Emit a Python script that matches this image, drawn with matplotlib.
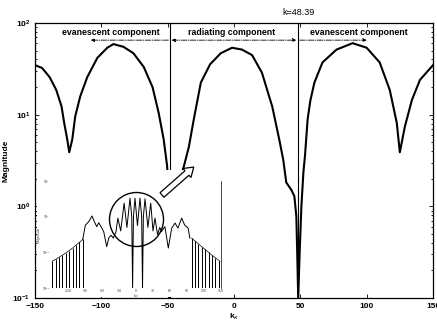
import matplotlib
matplotlib.use("Agg")
import matplotlib.pyplot as plt
import numpy as np
from matplotlib.patches import Circle, FancyArrow, Rectangle

plt.rcParams['font.family'] = ['Liberation Sans', 'DejaVu Sans']

# --- values (kx, log10 of magnitude) ---
k_cut = 48.39

main_kx = [-150, -144.7, -139, -134, -130, -128, -125.7, -124.2, -121.9, -119.7,
           -115.9, -110.6, -103, -95.5, -90.9, -83.3, -75.8, -68, -61.4, -56.8,
           -53, -50.5, -49.2, -48.39,
           -47.5, -45, -41, -37.9, -34, -30.3, -25, -18, -10, -1.5,
           6, 13.6, 21, 28.8, 34.1, 37.1, 39.4, 43.2, 45.5, 47, 47.7, 48.39,
           49.5, 50.8, 52.3, 53.5, 55.5, 57.5, 60.6, 66.7, 77.3, 89.4,
           100, 109.8, 117.4, 122.7, 125, 128.8, 134.1, 140.2, 150]
main_log_mag = [1.54, 1.51, 1.41, 1.27, 1.09, 0.91, 0.73, 0.59, 0.73, 0.98,
                1.2, 1.41, 1.62, 1.73, 1.77, 1.74, 1.67, 1.52, 1.30, 1.02,
                0.73, 0.45, 0.2, -1.0,
                -0.3, 0.05, 0.3, 0.43, 0.65, 0.95, 1.35, 1.55, 1.67, 1.73,
                1.71, 1.65, 1.46, 1.09, 0.73, 0.51, 0.26, 0.18, 0.11, -0.11, -0.54, -1.0,
                -0.5, 0.0, 0.37, 0.55, 0.95, 1.15, 1.35, 1.57, 1.71, 1.78,
                1.73, 1.57, 1.27, 0.91, 0.59, 0.87, 1.16, 1.38, 1.54]

# inset: full spectrum (comb lobes on both sides, busy middle part)
inset_left_comb_kx = [-148, -142, -136, -130, -124, -118, -112, -106, -100, -94]
inset_left_comb_log = [-1.25, -1.2, -1.14, -1.08, -1.02, -0.95, -0.88, -0.8, -0.72, -0.64]
inset_right_comb_kx = [98, 104, 110, 116, 122, 128, 134, 140, 146]
inset_right_comb_log = [-0.6, -0.68, -0.76, -0.84, -0.92, -1.0, -1.08, -1.15, -1.22]
inset_mid_kx = [-94, -89.4, -83.4, -77.6, -73.5, -69.3, -65.8, -61.7, -57, -51.7,
                -48.1, -44, -40, -35.3, -32, -27, -21, -16, -10.6, -7.5,
                -6, -4.5, -1.8, 2.6, 7, 10, 11.5, 13, 15.9, 21,
                26, 30, 33.5, 38, 42, 45, 51, 57, 63, 69,
                74, 80.6, 86, 92, 95]
inset_mid_log = [-0.64, -0.24, -0.14, 0.02, -0.14, -0.28, -0.17, -0.28, -0.42, -0.84,
                 -0.6, -0.52, -0.6, -0.42, -0.04, -0.4, 0.38, -0.3, 0.52, 0.0,
                 -2.0, 0.0, 0.52, -0.25, 0.52, 0.0, -2.0, 0.0, 0.5, -0.3,
                 0.38, -0.4, -0.04, -0.5, -0.3, -0.42, -0.28, -0.88, -0.32, -0.18,
                 -0.32, -0.04, -0.24, -0.32, -0.6]

x_ticks = [-150, -100, -50, 0, 50, 100, 150]
inset_x_ticks = [-120, -90, -60, -30, 0, 30, 60, 90, 120, 150]

fig = plt.figure(figsize=(4.37, 3.25), dpi=100)
ax = fig.add_axes([35 / 437, 27 / 325, 398 / 437, 275 / 325])

ax.semilogy(main_kx, 10 ** np.array(main_log_mag), color='black', lw=1.5)
ax.axvline(-k_cut, color='black', lw=0.8)
ax.axvline(k_cut, color='black', lw=0.8)

ax.set_xlim(-150, 150)
ax.set_ylim(0.1, 100)
ax.set_xticks(x_ticks)
ax.tick_params(which='both', direction='in', top=True, right=True,
               labelsize=6, width=0.6)
ax.tick_params(which='major', length=3)
ax.tick_params(which='minor', length=1.5)
for lab in ax.get_xticklabels() + ax.get_yticklabels():
    lab.set_fontweight('bold')
ax.set_xlabel('k$_x$', fontsize=6, fontweight='bold', labelpad=1)
ax.set_ylabel('Magnitude', fontsize=6, fontweight='bold', labelpad=2)
for sp in ax.spines.values():
    sp.set_linewidth(0.9)

ax.text(k_cut, 130, 'k=48.39', fontsize=6.5, ha='center', va='center')

# region labels and their dash-dot arrows
txt_kw = dict(fontsize=6.3, fontweight='bold', ha='center', va='center')
ax.text(-93, 78, 'evanescent component', **txt_kw)
ax.text(-1.5, 78, 'radiating component', **txt_kw)
ax.text(94, 78, 'evanescent component', **txt_kw)
arr_kw = dict(arrowstyle='-|>', linestyle='-.', lw=0.6, color='black',
              mutation_scale=5, shrinkA=0, shrinkB=0)
ax.annotate('', xy=(-108, 65), xytext=(-49.5, 65), arrowprops=arr_kw)
ax.annotate('', xy=(47, 65), xytext=(-47, 65),
            arrowprops=dict(arr_kw, arrowstyle='<|-|>'))
ax.annotate('', xy=(100, 65), xytext=(49.5, 65), arrowprops=arr_kw)

# white patch the inset picture sits on
fig.patches.append(Rectangle((0.37, 0.28), 1.91, 1.27, transform=fig.dpi_scale_trans,
                             facecolor='white', edgecolor='none', zorder=1))

ins = fig.add_axes([51 / 437, 37 / 325, 170 / 437, 107 / 325])
ins.set_zorder(2)
ins.patch.set_alpha(0)
ins.set_yscale('log')
ins.vlines(inset_left_comb_kx, 0.01, 10 ** np.array(inset_left_comb_log),
           color='black', lw=0.7)
ins.plot(inset_left_comb_kx, 10 ** np.array(inset_left_comb_log), color='black', lw=0.5)
ins.vlines(inset_right_comb_kx, 0.01, 10 ** np.array(inset_right_comb_log),
           color='black', lw=0.7)
ins.plot(inset_right_comb_kx, 10 ** np.array(inset_right_comb_log), color='black', lw=0.5)
ins.plot(inset_mid_kx, 10 ** np.array(inset_mid_log), color='black', lw=0.7)
ins.set_xlim(-150, 150)
ins.set_ylim(0.01, 10)
ins.set_xticks(inset_x_ticks)
ins.set_xticklabels([str(t) for t in inset_x_ticks])
for side in ['top', 'bottom', 'left']:
    ins.spines[side].set_visible(False)
ins.spines['right'].set_linewidth(0.5)
ins.tick_params(which='both', length=0, labelsize=2.5, pad=0.5, colors='#444444')
ins.tick_params(which='minor', labelleft=False)
ins.set_xlabel('k$_x$', fontsize=3, labelpad=0, color='#444444')
ins.set_ylabel('Magnitude', fontsize=2.5, labelpad=1, color='#444444')

# magnifier circle and hollow arrow pointing at the main curve
fig.patches.append(Circle((1.365, 1.055), 0.27, transform=fig.dpi_scale_trans,
                          fill=False, edgecolor='black', lw=1.0, zorder=3))
fig.patches.append(FancyArrow(1.62, 1.30, 0.25, 0.22, width=0.06, head_width=0.12,
                              head_length=0.09, transform=fig.dpi_scale_trans,
                              facecolor='white', edgecolor='black', lw=0.9, zorder=3))

fig.savefig('out.png', dpi=100)
